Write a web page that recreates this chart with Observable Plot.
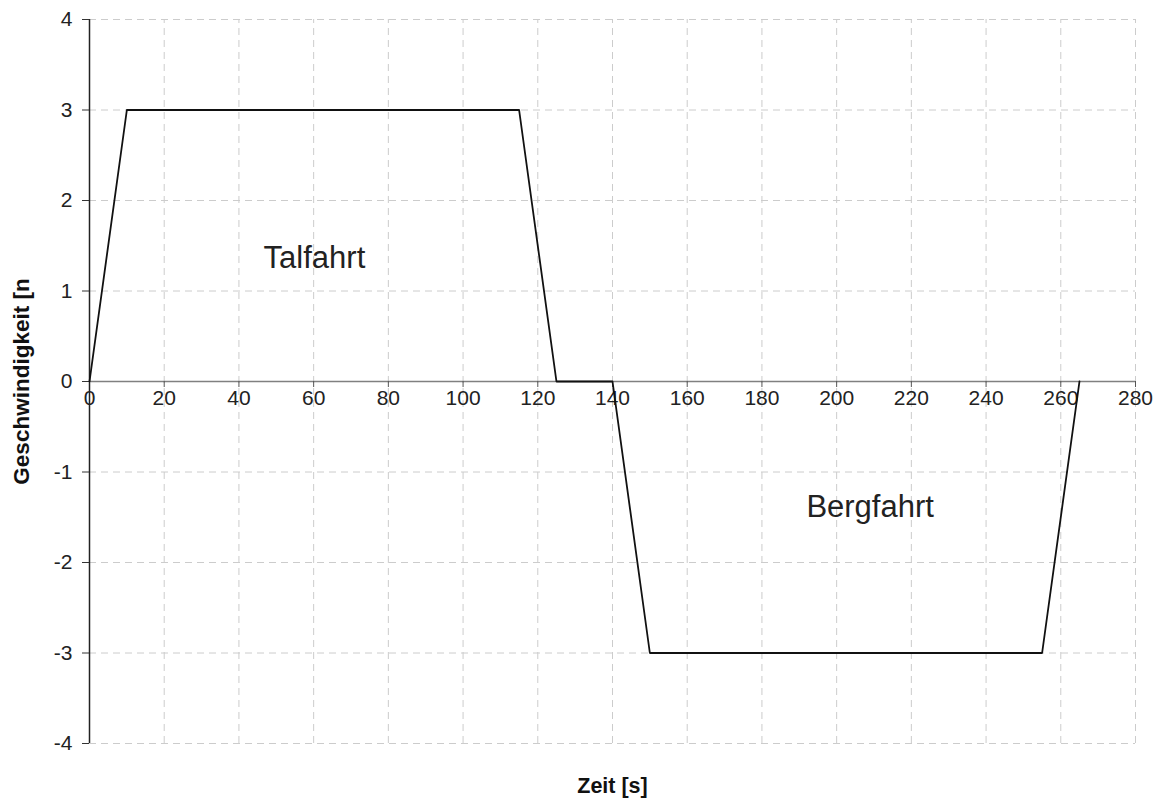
<!DOCTYPE html>
<html>
<head>
<meta charset="utf-8">
<script src="https://cdn.jsdelivr.net/npm/d3@7"></script>
<script src="https://cdn.jsdelivr.net/npm/@observablehq/plot@0.6"></script>
<style>
  html, body { margin: 0; padding: 0; background: #fff; }
  #chart svg { display: block; font-family: "Liberation Sans", Arial, sans-serif; }
</style>
</head>
<body>
<div id="chart"></div>
<script>
// Data
const zeit = [0, 10, 115, 125, 140, 150, 255, 265];
const geschwindigkeit = [0, 3, 3, 0, 0, -3, -3, 0];
const xTicks = [0, 20, 40, 60, 80, 100, 120, 140, 160, 180, 200, 220, 240, 260, 280];
const yTicks = [-4, -3, -2, -1, 0, 1, 2, 3, 4];
const annotations = ["Talfahrt", "Bergfahrt"];
const annotationX = [46.6, 191.9];
const annotationY = [1.36, -1.39];
const xLabel = "Zeit [s]";
const yLabel = "Geschwindigkeit [n";

const series = zeit.map((t, i) => ({t, v: geschwindigkeit[i]}));
const notes = annotations.map((s, i) => ({s, x: annotationX[i], y: annotationY[i]}));

const gridColor = "#cccccc";
const dash = "7,5";

const chart = Plot.plot({
  width: 1164,
  height: 799,
  marginLeft: 89,
  marginRight: 29,
  marginTop: 19,
  marginBottom: 56,
  style: {fontFamily: "'Liberation Sans', Arial, sans-serif", background: "#fff"},
  x: {domain: [0, 280], axis: null},
  y: {domain: [-4, 4], axis: null},
  marks: [
    // grid
    Plot.ruleX(xTicks.filter(d => d !== 0), {x: d => d, y1: -4, y2: 4, stroke: gridColor, strokeDasharray: dash, strokeWidth: 1}),
    Plot.ruleY(yTicks.filter(d => d !== 0), {y: d => d, x1: 0, x2: 280, stroke: gridColor, strokeDasharray: dash, strokeWidth: 1}),
    // x axis line at zero
    Plot.ruleY([0], {x1: 0, x2: 280, stroke: "#808080", strokeWidth: 1.5}),
    // x tick marks
    Plot.ruleX(xTicks, {x: d => d, y1: 0, y2: 0, insetBottom: -6, stroke: "#555", strokeWidth: 1}),
    // x tick labels
    Plot.text(xTicks, {x: d => d, y: 0, dy: 17, text: d => String(d), fontSize: 21, fill: "#222", lineAnchor: "middle", textAnchor: "middle"}),
    // y axis line
    Plot.ruleX([0], {y1: -4, y2: 4, stroke: "#222", strokeWidth: 1.5}),
    // y ticks & labels
    Plot.axisY({ticks: yTicks, tickSize: 7, tickPadding: 10, fontSize: 21, tickFormat: d => String(d), label: null, stroke: "#333", color: "#222"}),
    // data line
    Plot.line(series, {x: "t", y: "v", stroke: "#111", strokeWidth: 1.8}),
    // annotations
    Plot.text(notes, {x: "x", y: "y", text: "s", fontSize: 31, textAnchor: "start", lineAnchor: "middle", fill: "#222"}),
    // axis titles
    Plot.text([xLabel], {frameAnchor: "bottom", dy: 43, text: d => d, fontSize: 21.5, fontWeight: "bold", fill: "#111", lineAnchor: "middle"}),
    Plot.text([yLabel], {frameAnchor: "left", dx: -68, rotate: -90, text: d => d, fontSize: 22.5, fontWeight: "bold", fill: "#111", lineAnchor: "middle", textAnchor: "middle"})
  ]
});
document.getElementById("chart").appendChild(chart);
</script>
</body>
</html>
